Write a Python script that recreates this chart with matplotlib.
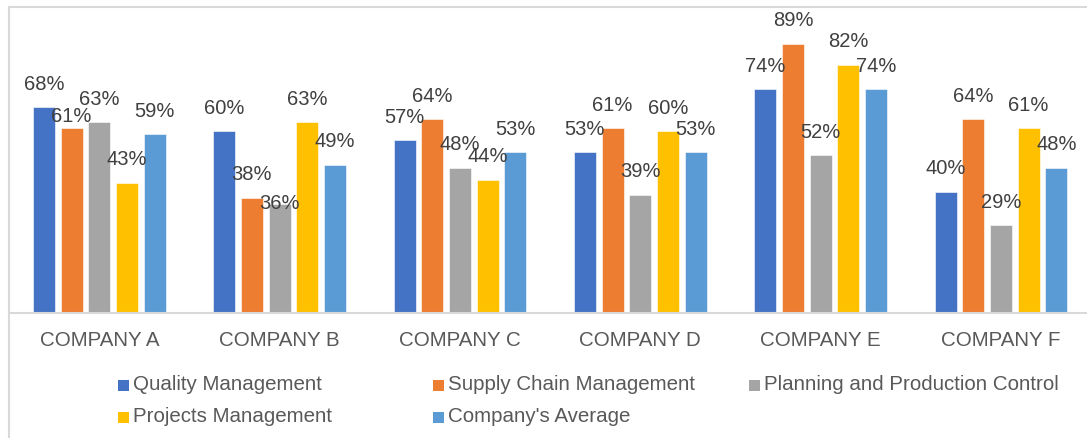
import matplotlib
matplotlib.use("Agg")
import matplotlib.pyplot as plt
from matplotlib.patches import Rectangle
from matplotlib.lines import Line2D

# ---- data -------------------------------------------------------------
companies = ["COMPANY A", "COMPANY B", "COMPANY C", "COMPANY D", "COMPANY E", "COMPANY F"]
series_names = [
    "Quality Management",
    "Supply Chain Management",
    "Planning and Production Control",
    "Projects Management",
    "Company's Average",
]
quality = [68, 60, 57, 53, 74, 40]
supply_chain = [61, 38, 64, 61, 89, 64]
planning = [63, 36, 48, 39, 52, 29]
projects = [43, 63, 44, 60, 82, 61]
company_avg = [59, 49, 53, 53, 74, 48]

series_values = [quality, supply_chain, planning, projects, company_avg]
colors = ["#4472C4", "#ED7D31", "#A5A5A5", "#FFC000", "#5B9BD5"]

# label nudges (points) where labels were shifted to avoid neighbours
label_nudge = {(0, 1): -8, (1, 2): -16}

# ---- figure -----------------------------------------------------------
W, H = 1087, 438
fig = plt.figure(figsize=(W / 100, H / 100), dpi=100)
plt.rcParams["font.family"] = ["Liberation Sans", "DejaVu Sans"]


def fx(px):
    return px / W


def fy(py):
    return 1 - py / H


ax = fig.add_axes([fx(9.1), fy(312.5), 1082 / W, 302 / H])
ax.set_xlim(-0.5, len(companies) - 0.5)
ax.set_ylim(0, 100)

step = 0.1535
width = 0.122
n = len(series_values)
for i, (vals, col) in enumerate(zip(series_values, colors)):
    xs = [c + (i - (n - 1) / 2) * step for c in range(len(companies))]
    bars = ax.bar(xs, vals, width=width, color=col, edgecolor="white",
                  linewidth=0.4, zorder=2)
    for j, (b, v) in enumerate(zip(bars, vals)):
        dy = 16.5 + label_nudge.get((j, i), 0)
        ax.annotate(f"{v}%", (b.get_x() + b.get_width() / 2, v),
                    xytext=(0, dy), textcoords="offset points",
                    ha="center", va="center", fontsize=14.5, color="#404040",
                    zorder=3)

ax.set_xticks(range(len(companies)))
ax.set_xticklabels(companies, fontsize=14.8, color="#595959")
ax.tick_params(axis="x", length=0, pad=13.5)
ax.set_yticks([])
for s in ("top", "right", "left"):
    ax.spines[s].set_visible(False)
ax.spines["bottom"].set_color("#D9D9D9")
ax.spines["bottom"].set_linewidth(1.5)
ax.set_facecolor("none")

# chart frame (top and left edges visible)
fig.add_artist(Line2D([fx(9), fx(9)], [fy(7), 0], color="#D9D9D9", lw=1.5))
fig.add_artist(Line2D([fx(9), 1], [fy(7), fy(7)], color="#D9D9D9", lw=1.5))

# legend laid out row-wise in three fixed-width columns
col_x = [118, 433, 749]
row_y = [385, 417]
for k, (name, col) in enumerate(zip(series_names, colors)):
    r, c = divmod(k, 3)
    x0, y0 = col_x[c], row_y[r]
    fig.add_artist(Rectangle((fx(x0), fy(y0 + 5.5)), 11 / W, 11 / H,
                             transform=fig.transFigure, color=col, lw=0))
    fig.text(fx(x0 + 15), fy(y0), name, fontsize=14.8, color="#595959",
             ha="left", va="center")

fig.savefig("out.png", dpi=100)
